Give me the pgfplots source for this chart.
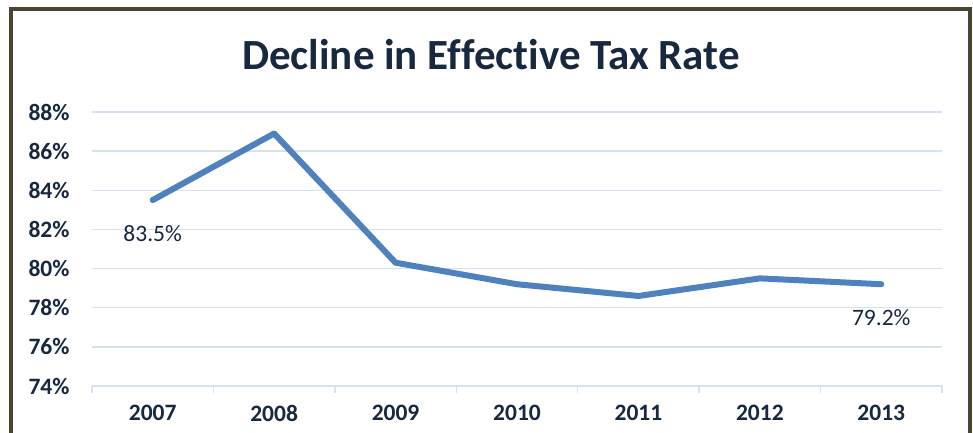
\documentclass[border=0pt]{standalone}
\usepackage{fontspec}
\setmainfont{Carlito}[Ligatures=NoCommon]
\usepackage{pgfplots}
\pgfplotsset{compat=1.18}
\definecolor{navy}{HTML}{17283F}
\definecolor{lineblue}{HTML}{4F81BD}
\definecolor{gridblue}{HTML}{D5E2F2}
\definecolor{frame}{HTML}{4A4430}
\begin{document}
\begin{tikzpicture}[x=1pt,y=1pt]
\clip (0,0) rectangle (973,432);
\fill[white] (0,0) rectangle (973,432);
\draw[frame, line width=4pt] (11,-20) rectangle (970,423);
\node[navy, font=\bfseries\fontsize{43}{47}\selectfont] at (491,377) {Decline in Effective Tax Rate};
\begin{axis}[
  at={(92pt,46pt)}, anchor=south west,
  scale only axis, width=850pt, height=274pt,
  xmin=-0.5, xmax=6.5, ymin=74, ymax=88,
  axis line style={draw=none},
  axis x line*=bottom,
  x axis line style={draw=gridblue, line width=1.5pt},
  axis y line*=left,
  y axis line style={draw=none},
  xtick={-0.5,0.5,...,6.5},
  x tick label as interval,
  xticklabels={2007,2008,2009,2010,2011,2012,2013},
  ytick={74,76,...,88},
  yticklabel={\pgfmathprintnumber{\tick}\%},
  /pgf/number format/assume math mode=true,
  ymajorgrids,
  grid style={gridblue, line width=1.5pt},
  major x tick style={gridblue, line width=1.5pt},
  major y tick style={draw=none},
  tick align=outside,
  major tick length=7pt,
  xticklabel style={font=\bfseries\fontsize{23.5}{26}\selectfont, text=navy, yshift=-9pt},
  yticklabel style={font=\bfseries\fontsize{23.5}{26}\selectfont, text=navy, xshift=-12pt},
  clip=false,
]
\addplot[lineblue, line width=6pt, line join=round, line cap=round] coordinates {
(0,83.5) (1,86.9) (2,80.3) (3,79.2) (4,78.6) (5,79.5) (6,79.2)};
\node[navy, font=\fontsize{23.5}{26}\selectfont] at (axis cs:0,83.5) [yshift=-33pt] {83.5\%};
\node[navy, font=\fontsize{23.5}{26}\selectfont] at (axis cs:6,79.2) [yshift=-33pt] {79.2\%};
\end{axis}
\end{tikzpicture}
\end{document}
